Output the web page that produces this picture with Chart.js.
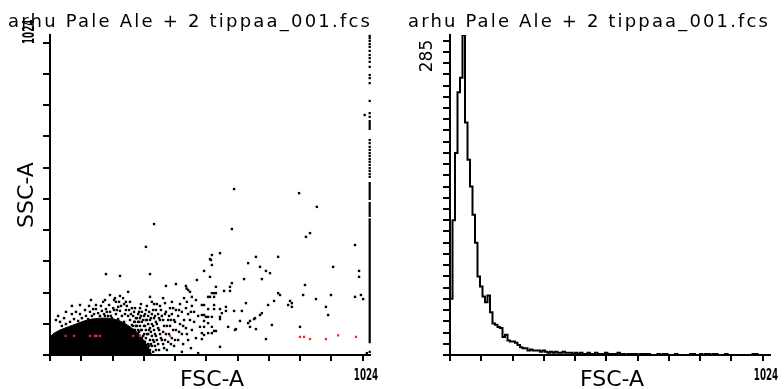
<!DOCTYPE html>
<html>
<head>
<meta charset="utf-8">
<script src="https://cdn.jsdelivr.net/npm/chart.js@4/dist/chart.umd.min.js"></script>
<style>
  html, body { margin: 0; padding: 0; background: #fff; }
  #wrap { position: relative; width: 784px; height: 389px; overflow: hidden; }
  .panel { position: absolute; top: 0; width: 392px; height: 389px; }
</style>
</head>
<body>
<div id="wrap">
  <div class="panel" style="left:0"><canvas id="dotPlot" width="392" height="389"></canvas></div>
  <div class="panel" style="left:392px"><canvas id="histPlot" width="392" height="389"></canvas></div>
</div>
<script>
// Titulos e eixos
const plotTitle = "arhu Pale Ale + 2 tippaa_001.fcs";
const xAxisLabel = "FSC-A";
const yAxisLabel = "SSC-A";
const channelMax = 1024;
const channelTicks = [0, 100, 200, 300, 400, 500, 600, 700, 800, 900, 1000];
const countMax = 285;
const countTicks = [0, 10, 20, 30, 40, 50, 60, 70, 80, 90, 100, 110, 120, 130, 140, 150, 160, 170, 180, 190,
                    200, 210, 220, 230, 240, 250, 260, 270, 280];

// Histograma FSC-A (128 canais de largura 8)
const binWidth = 8;
const fscCounts = [
  50, 120, 180, 234, 247, 285, 207, 174, 150, 125, 100, 70, 61, 52, 47, 53,
  38, 28, 27, 25, 24, 16, 18, 13, 12, 12, 11, 9, 7, 6, 6, 4,
  5, 4, 4, 4, 3, 4, 3, 2, 3, 2, 3, 2, 2, 3, 2, 2,
  2, 1, 2, 1, 2, 1, 1, 2, 1, 1, 2, 1, 1, 1, 2, 1,
  1, 1, 1, 2, 1, 1, 0, 1, 1, 1, 1, 0, 1, 1, 1, 1,
  0, 0, 0, 1, 0, 1, 1, 0, 0, 0, 1, 0, 0, 0, 0, 0,
  1, 1, 0, 0, 1, 0, 1, 1, 0, 1, 1, 0, 0, 0, 1, 0,
  0, 0, 0, 0, 0, 0, 0, 0, 0, 1, 1, 0, 0, 0, 0, 0
];

// Nucleo denso do grafico FSC x SSC (contorno superior)
const blobOutline = [[0, 58], [13, 70], [32, 80], [58, 90], [83, 99], [109, 109], [134, 115], [160, 118],
  [186, 118], [205, 115], [224, 109], [243, 99], [262, 86], [282, 70], [298, 50], [314, 26], [326, 0]];

// Eventos individuais (FSC, SSC)
const scatterEvents = [
  [333, 419], [307, 346], [179, 259], [224, 253], [320, 259], [515, 304],
  [589, 531], [797, 518], [854, 474], [582, 403], [832, 390], [819, 378], [976, 352], [1007, 768],
  [544, 326], [518, 320], [512, 307], [518, 288], [659, 314], [730, 314], [634, 294], [672, 282], [906, 282],
  [493, 269], [691, 269], [704, 262], [989, 269], [512, 250], [621, 243], [678, 243], [989, 250],
  [582, 230], [816, 224], [531, 218], [576, 218], [557, 205], [576, 205], [518, 198], [525, 198], [531, 198],
  [730, 198], [736, 192], [512, 186], [506, 186], [525, 186], [810, 192], [899, 192], [976, 186], [995, 192],
  [1002, 179], [851, 179], [717, 173], [768, 173], [774, 166], [627, 166], [486, 160], [493, 160], [525, 160],
  [506, 147], [698, 160], [762, 160], [774, 154], [883, 154], [525, 147], [544, 147], [563, 154], [563, 141],
  [589, 141], [614, 141], [550, 134], [678, 134], [672, 128], [486, 128], [493, 128], [499, 122], [506, 122],
  [518, 122], [544, 122], [544, 115], [890, 128], [493, 109], [608, 109], [653, 115], [634, 102], [640, 109],
  [506, 102], [480, 90], [493, 90], [518, 90], [570, 90], [640, 90], [710, 96], [800, 90], [595, 83], [659, 83],
  [592, 80], [656, 118], [506, 70], [518, 70], [525, 77], [531, 77], [486, 70], [493, 64], [486, 51], [691, 51],
  [544, 26], [1014, 6], [474, 6], [422, 10], [437, 213],
  // borda do nucleo
  [19, 112], [38, 93], [51, 99], [64, 106], [70, 157], [70, 131], [77, 115], [90, 109], [96, 131], [96, 160],
  [102, 118], [115, 125], [122, 115], [128, 138], [134, 125], [141, 131], [147, 160], [147, 147], [154, 134],
  [160, 125], [166, 141], [173, 131], [179, 147], [186, 125], [192, 192], [192, 138], [198, 118], [205, 176],
  [205, 144], [211, 170], [211, 131], [218, 154], [218, 115], [224, 189], [224, 141], [230, 125], [237, 163],
  [237, 106], [243, 170], [243, 144], [250, 202], [250, 125], [256, 170], [256, 112], [262, 150], [262, 96],
  [163, 157], [170, 170], [176, 125], [182, 138], [189, 160], [195, 125], [202, 150], [208, 182], [214, 144],
  [221, 170], [227, 157], [234, 182], [240, 131], [246, 157], [253, 144], [259, 131], [112, 144], [125, 157],
  [138, 147], [83, 138], [45, 118], [32, 106], [26, 125], [51, 138], [131, 176], [176, 176],
  // zona pontilhada
  [269, 138], [269, 106], [269, 80], [269, 54], [269, 29], [275, 118], [275, 93], [275, 67], [275, 42], [275, 16],
  [282, 131], [282, 106], [282, 80], [282, 48], [282, 22], [288, 150], [288, 118], [288, 93], [288, 61], [288, 35],
  [288, 10], [294, 138], [294, 106], [294, 80], [294, 54], [294, 29], [301, 125], [301, 93], [301, 67], [301, 42],
  [301, 16], [307, 144], [307, 112], [307, 80], [307, 54], [307, 22], [314, 125], [314, 99], [314, 67], [314, 35],
  [320, 186], [320, 112], [320, 86], [320, 48], [320, 16], [326, 170], [326, 131], [326, 99], [326, 61], [326, 29],
  [333, 163], [333, 118], [333, 80], [333, 42], [339, 144], [339, 106], [339, 61], [339, 16], [346, 131], [346, 86],
  [346, 35], [352, 157], [352, 112], [352, 67], [358, 125], [358, 48], [362, 182], [365, 93], [365, 22], [368, 166],
  [371, 221], [371, 138], [371, 67], [378, 112], [378, 42], [384, 150], [384, 93], [390, 170], [390, 131], [390, 54],
  [397, 112], [397, 29], [403, 227], [403, 144], [403, 80], [410, 125], [410, 48], [416, 163], [416, 99], [422, 138],
  [422, 67], [429, 182], [429, 112], [435, 221], [435, 150], [435, 86], [442, 208], [442, 131], [442, 48], [448, 202],
  [448, 112], [454, 186], [454, 157], [454, 80], [461, 138], [461, 106], [467, 176], [467, 54], [470, 240], [474, 125],
  [266, 125], [266, 93], [266, 67], [266, 42], [266, 16], [272, 150], [272, 106], [272, 80], [272, 29],
  [278, 118], [278, 93], [278, 61], [278, 35], [278, 10], [285, 138], [285, 106], [285, 74], [285, 22],
  [291, 163], [291, 125], [291, 80], [291, 48], [298, 112], [298, 61], [298, 29], [304, 131], [304, 93],
  [304, 42], [304, 10], [310, 157], [310, 112], [310, 67], [317, 138], [317, 80], [317, 29], [323, 118],
  [323, 74], [323, 35], [330, 144], [330, 93], [330, 48], [330, 10], [336, 125], [336, 67], [336, 29],
  [342, 163], [342, 99], [342, 48], [349, 118], [349, 80], [349, 16], [355, 144], [355, 54], [362, 112],
  [362, 74], [362, 35], [368, 131], [368, 48], [374, 93], [374, 16], [381, 125], [381, 67], [387, 112],
  [387, 35], [394, 150], [394, 80], [400, 106], [400, 48], [413, 144], [413, 74], [426, 93], [426, 35],
  [438, 170], [438, 67], [451, 138], [451, 22]
];

// Eventos em vermelho
const redEvents = [[50, 61], [77, 61], [128, 61], [144, 61], [149, 61], [160, 61], [266, 61], [288, 61], [384, 61],
  [800, 58], [813, 58], [832, 51], [883, 51], [922, 63], [979, 58]];

// Eventos saturados no canal 1023
const saturatedChannel = 1023;
const saturatedRuns = [[38, 438], [442, 490], [496, 554], [720, 752]];
const saturatedDots = [10, 570, 579, 589, 598, 608, 618, 627, 637, 646, 656, 666, 678, 688,
  762, 774, 813, 870, 886, 896, 922, 938, 950, 960, 973, 986, 995, 1005, 1014, 1021];

// Texto com espacamento ate a largura desejada
function drawSpaced(ctx, text, x, y, width) {
  ctx.save();
  if ('letterSpacing' in ctx) {
    ctx.letterSpacing = '0px';
    const plain = ctx.measureText(text).width;
    ctx.letterSpacing = ((width - plain) / (text.length - 1)) + 'px';
    ctx.fillText(text, x, y);
  } else {
    const plain = ctx.measureText(text).width;
    ctx.translate(x, y);
    ctx.scale(width / plain, 1);
    ctx.fillText(text, 0, 0);
  }
  ctx.restore();
}

// Numeros estreitos (1024)
function drawNarrow(ctx, text, x, y, rotate, align) {
  ctx.save();
  ctx.translate(x, y);
  if (rotate) ctx.rotate(-Math.PI / 2);
  ctx.scale(0.65, 1);
  ctx.font = 'bold 15px "DejaVu Sans Condensed", "DejaVu Sans"';
  ctx.textAlign = align;
  ctx.fillText(text, 0, 0);
  ctx.restore();
}

const panelText = {
  id: 'panelText',
  afterDraw(chart, args, opts) {
    const ctx = chart.ctx;
    const area = chart.chartArea;
    const xs = chart.scales.x;
    const ys = chart.scales.y;
    ctx.save();
    ctx.fillStyle = '#000';
    ctx.textBaseline = 'alphabetic';

    ctx.font = '18px "DejaVu Sans"';
    ctx.textAlign = 'left';
    drawSpaced(ctx, plotTitle, opts.titleX, 27, opts.titleWidth);

    ctx.font = '22px "DejaVu Sans"';
    ctx.textAlign = 'center';
    ctx.fillText(xAxisLabel, (area.left + area.right) / 2 + 2, 386);

    drawNarrow(ctx, String(channelMax), xs.getPixelForValue(channelMax) - 4, 380, false, 'center');

    if (opts.yLabel) {
      ctx.save();
      ctx.translate(33, (area.top + area.bottom) / 2);
      ctx.rotate(-Math.PI / 2);
      ctx.font = '22px "DejaVu Sans"';
      ctx.textAlign = 'center';
      ctx.fillText(opts.yLabel, 0, 0);
      ctx.restore();
    }

    if (opts.narrowTop) {
      drawNarrow(ctx, opts.topLabel, 34, ys.getPixelForValue(channelMax) + 9, true, 'left');
    } else {
      ctx.save();
      ctx.translate(40, 56);
      ctx.rotate(-Math.PI / 2);
      ctx.font = '17px "DejaVu Sans"';
      ctx.textAlign = 'center';
      ctx.fillText(opts.topLabel, 0, 0);
      ctx.restore();
    }
    ctx.restore();
  }
};

function axisOptions(min, max, tickValues, tickLength) {
  return {
    type: 'linear',
    min: min,
    max: max,
    afterBuildTicks: scale => { scale.ticks = tickValues.map(v => ({ value: v })); },
    ticks: { display: false },
    grid: { drawOnChartArea: false, drawTicks: true, tickLength: tickLength, lineWidth: 2, color: '#000' },
    border: { display: true, width: 2, color: '#000' }
  };
}

function toPoints(pairs) {
  return pairs.map(p => ({ x: p[0], y: p[1] }));
}

// Grafico de pontos FSC x SSC
const satLine = [];
saturatedRuns.forEach(r => {
  satLine.push({ x: saturatedChannel, y: r[0] }, { x: saturatedChannel, y: r[1] }, { x: saturatedChannel, y: null });
});

new Chart(document.getElementById('dotPlot'), {
  type: 'scatter',
  data: {
    datasets: [
      {
        data: toPoints(redEvents), order: 0, clip: false,
        pointStyle: 'rect', pointRadius: 1.6, pointBackgroundColor: '#ff2020', pointBorderWidth: 0
      },
      {
        data: toPoints(scatterEvents), order: 1, clip: false,
        pointStyle: 'rect', pointRadius: 1.7, pointBackgroundColor: '#000', pointBorderWidth: 0
      },
      {
        data: saturatedDots.map(v => ({ x: saturatedChannel, y: v })), order: 2, clip: false,
        pointStyle: 'rect', pointRadius: 1.6, pointBackgroundColor: '#000', pointBorderWidth: 0
      },
      {
        data: satLine, order: 3, showLine: true, spanGaps: false, clip: false,
        borderColor: '#000', borderWidth: 2.2, pointRadius: 0
      },
      {
        data: toPoints(blobOutline), order: 4, showLine: true, fill: 'origin', tension: 0,
        borderColor: '#000', backgroundColor: '#000', borderWidth: 1, pointRadius: 0
      }
    ]
  },
  options: {
    responsive: false,
    animation: false,
    events: [],
    layout: { padding: { left: 43, right: 22, top: 35, bottom: 28 } },
    scales: {
      x: axisOptions(0, channelMax, channelTicks, 6),
      y: axisOptions(0, channelMax, channelTicks, 7)
    },
    plugins: {
      legend: { display: false },
      tooltip: { enabled: false },
      panelText: { titleX: 8, titleWidth: 362, yLabel: yAxisLabel, topLabel: String(channelMax), narrowTop: true }
    }
  },
  plugins: [panelText]
});

// Histograma FSC-A
const histPoints = fscCounts.map((c, i) => ({ x: i * binWidth, y: c }));
histPoints.push({ x: channelMax, y: 0 });

new Chart(document.getElementById('histPlot'), {
  type: 'line',
  data: {
    datasets: [{
      data: histPoints,
      stepped: true,
      borderColor: '#000',
      borderWidth: 2,
      pointRadius: 0,
      fill: false
    }]
  },
  options: {
    responsive: false,
    animation: false,
    events: [],
    layout: { padding: { left: 51, right: 14, top: 35, bottom: 28 } },
    scales: {
      x: axisOptions(0, channelMax, channelTicks, 6),
      y: axisOptions(0, countMax, countTicks, 7)
    },
    plugins: {
      legend: { display: false },
      tooltip: { enabled: false },
      panelText: { titleX: 16, titleWidth: 360, yLabel: null, topLabel: String(countMax), narrowTop: false }
    }
  },
  plugins: [panelText]
});
</script>
</body>
</html>
